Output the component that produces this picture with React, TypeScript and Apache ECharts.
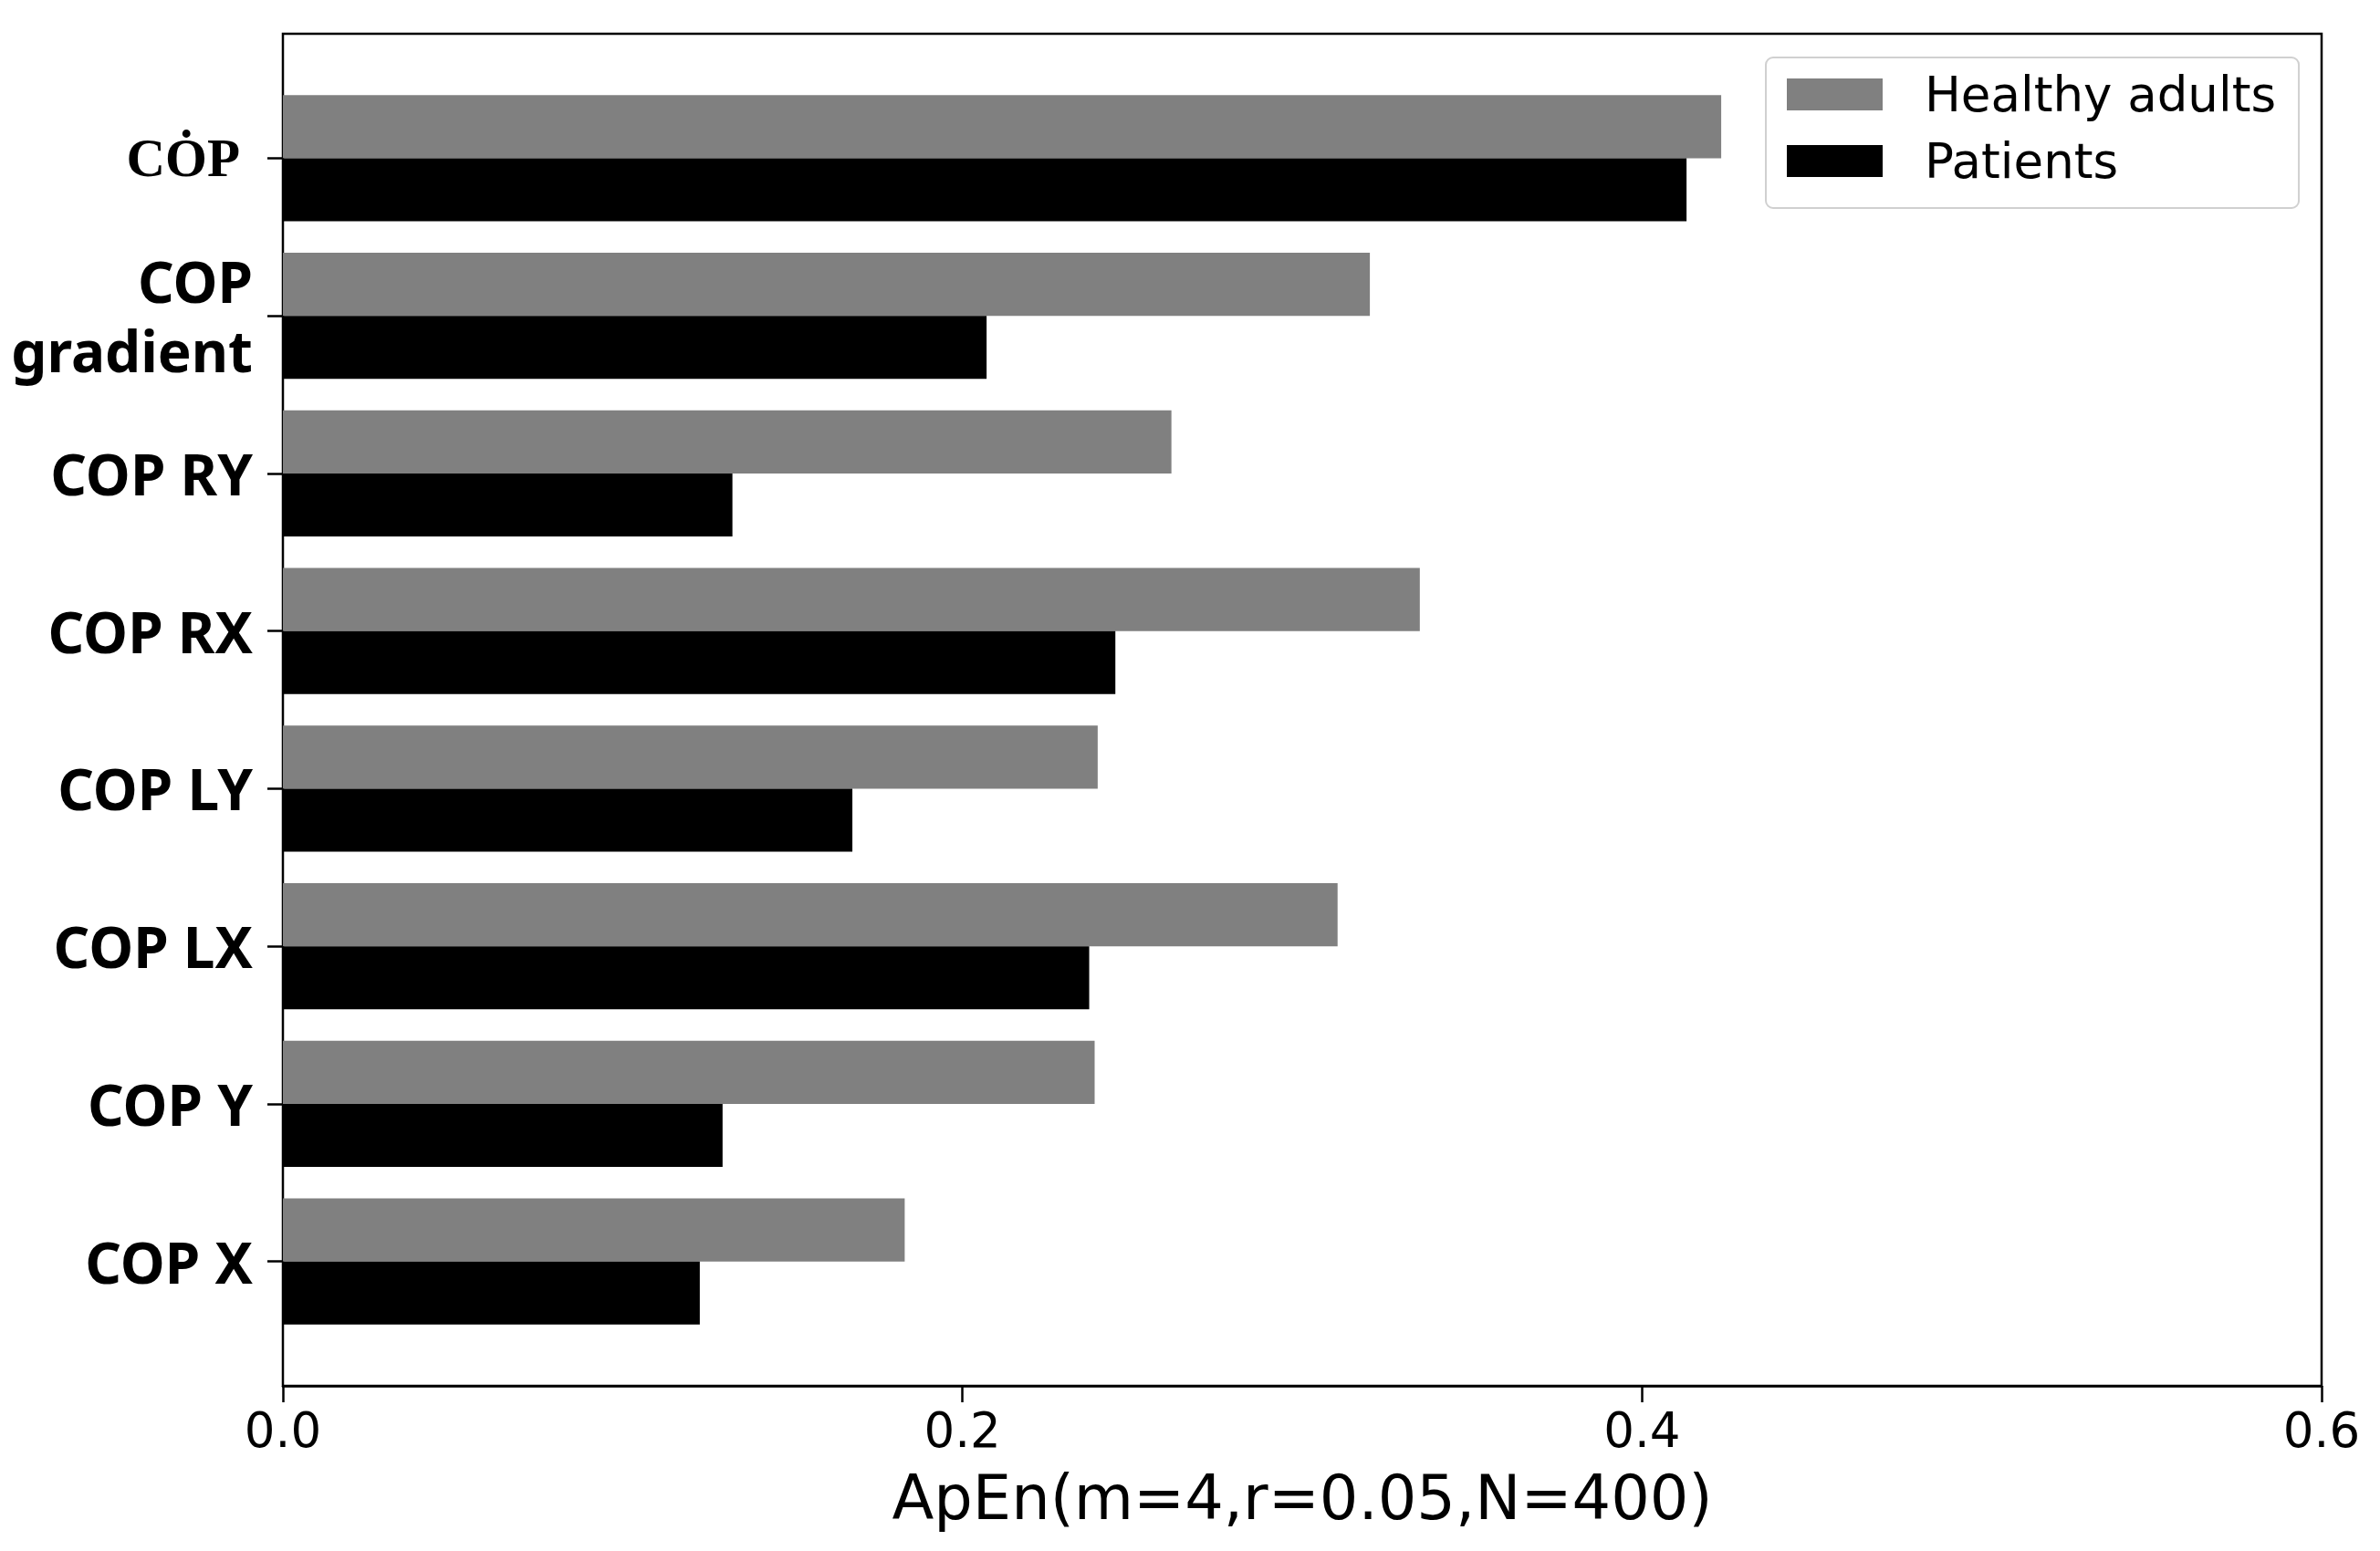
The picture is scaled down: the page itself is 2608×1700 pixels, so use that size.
import React, { useEffect, useRef } from "react";
import * as echarts from "echarts";

// Categories listed bottom-to-top (ECharts category y axis starts at the bottom)
const categories = ["COP X", "COP Y", "COP LX", "COP LY", "COP RX", "COP RY", "COP\ngradient", "CȮP"];
const healthyAdults = [0.183, 0.2389, 0.3104, 0.2398, 0.3346, 0.2615, 0.3199, 0.4233];
const patients = [0.1227, 0.1294, 0.2373, 0.1676, 0.245, 0.1323, 0.2071, 0.4131];
const seriesNames = ["Healthy adults", "Patients"];
const xMin = 0;
const xMax = 0.6;
const xInterval = 0.2;
const xTitle = "ApEn(m=4,r=0.05,N=400)";

export default function App() {
  const ref = useRef<HTMLDivElement>(null);
  useEffect(() => {
    if (!ref.current) return;
    const chart = echarts.init(ref.current, null, { renderer: "svg" });
    const L = 310, W = 2234;
    chart.setOption({
      animation: false,
      backgroundColor: "#ffffff",
      grid: [
        { left: L, top: 37, width: W, height: 1482, show: true, borderColor: "#000", borderWidth: 2.5, backgroundColor: "transparent" },
        { left: L, top: 87, width: W, height: 1382 },
      ],
      legend: {
        data: seriesNames,
        orient: "vertical",
        left: 1935,
        top: 63,
        icon: "rect",
        itemWidth: 105,
        itemHeight: 35,
        itemGap: 20,
        padding: [14, 25, 25, 23],
        borderColor: "#d0d0d0",
        borderWidth: 2,
        borderRadius: 8,
        backgroundColor: "rgba(255,255,255,0.8)",
        textStyle: { fontFamily: "DejaVu Sans", fontSize: 53, color: "#000", padding: [0, 0, 0, 41] },
      },
      xAxis: [
        {
          gridIndex: 0,
          type: "value",
          min: xMin,
          max: xMax,
          interval: xInterval,
          axisLine: { show: true, lineStyle: { color: "#000", width: 2.5 } },
          axisTick: { show: true, length: 18, lineStyle: { color: "#000", width: 2.5 } },
          splitLine: { show: false },
          axisLabel: {
            margin: 22,
            fontFamily: "DejaVu Sans",
            fontSize: 53,
            color: "#000",
            formatter: (v: number) => v.toFixed(1),
          },
          name: xTitle,
          nameLocation: "middle",
          nameGap: 89,
          nameTextStyle: { fontFamily: "DejaVu Sans", fontSize: 67, color: "#000", verticalAlign: "top" },
        },
        { gridIndex: 1, type: "value", min: xMin, max: xMax, show: false },
      ],
      yAxis: [
        { gridIndex: 0, type: "value", min: 0, max: 1, show: false },
        {
          gridIndex: 1,
          type: "category",
          data: categories,
          axisLine: { show: false },
          axisTick: { show: true, alignWithLabel: true, length: 17, lineStyle: { color: "#000", width: 2.5 } },
          axisLabel: {
            margin: 33,
            fontFamily: "Noto Sans",
            fontWeight: "bold",
            fontSize: 62,
            lineHeight: 76,
            color: "#000",
            align: "right",
            formatter: (v: string) => (v === "CȮP" ? "{s|" + v + "}" : v),
            rich: {
              s: {
                fontFamily: "Liberation Serif",
                fontWeight: "bold",
                fontSize: 59,
                lineHeight: 70,
                color: "#000",
                padding: [0, 14, 0, 0],
              },
            },
          },
        },
      ],
      series: [
        {
          name: seriesNames[0],
          type: "bar",
          xAxisIndex: 1,
          yAxisIndex: 1,
          data: healthyAdults,
          barWidth: "40%",
          barGap: "0%",
          itemStyle: { color: "#808080" },
        },
        {
          name: seriesNames[1],
          type: "bar",
          xAxisIndex: 1,
          yAxisIndex: 1,
          data: patients,
          barWidth: "40%",
          barGap: "0%",
          itemStyle: { color: "#000000" },
        },
      ],
    });
    return () => chart.dispose();
  }, []);
  return <div ref={ref} style={{ position: "absolute", left: 0, top: 0, width: 2608, height: 1700 }} />;
}
